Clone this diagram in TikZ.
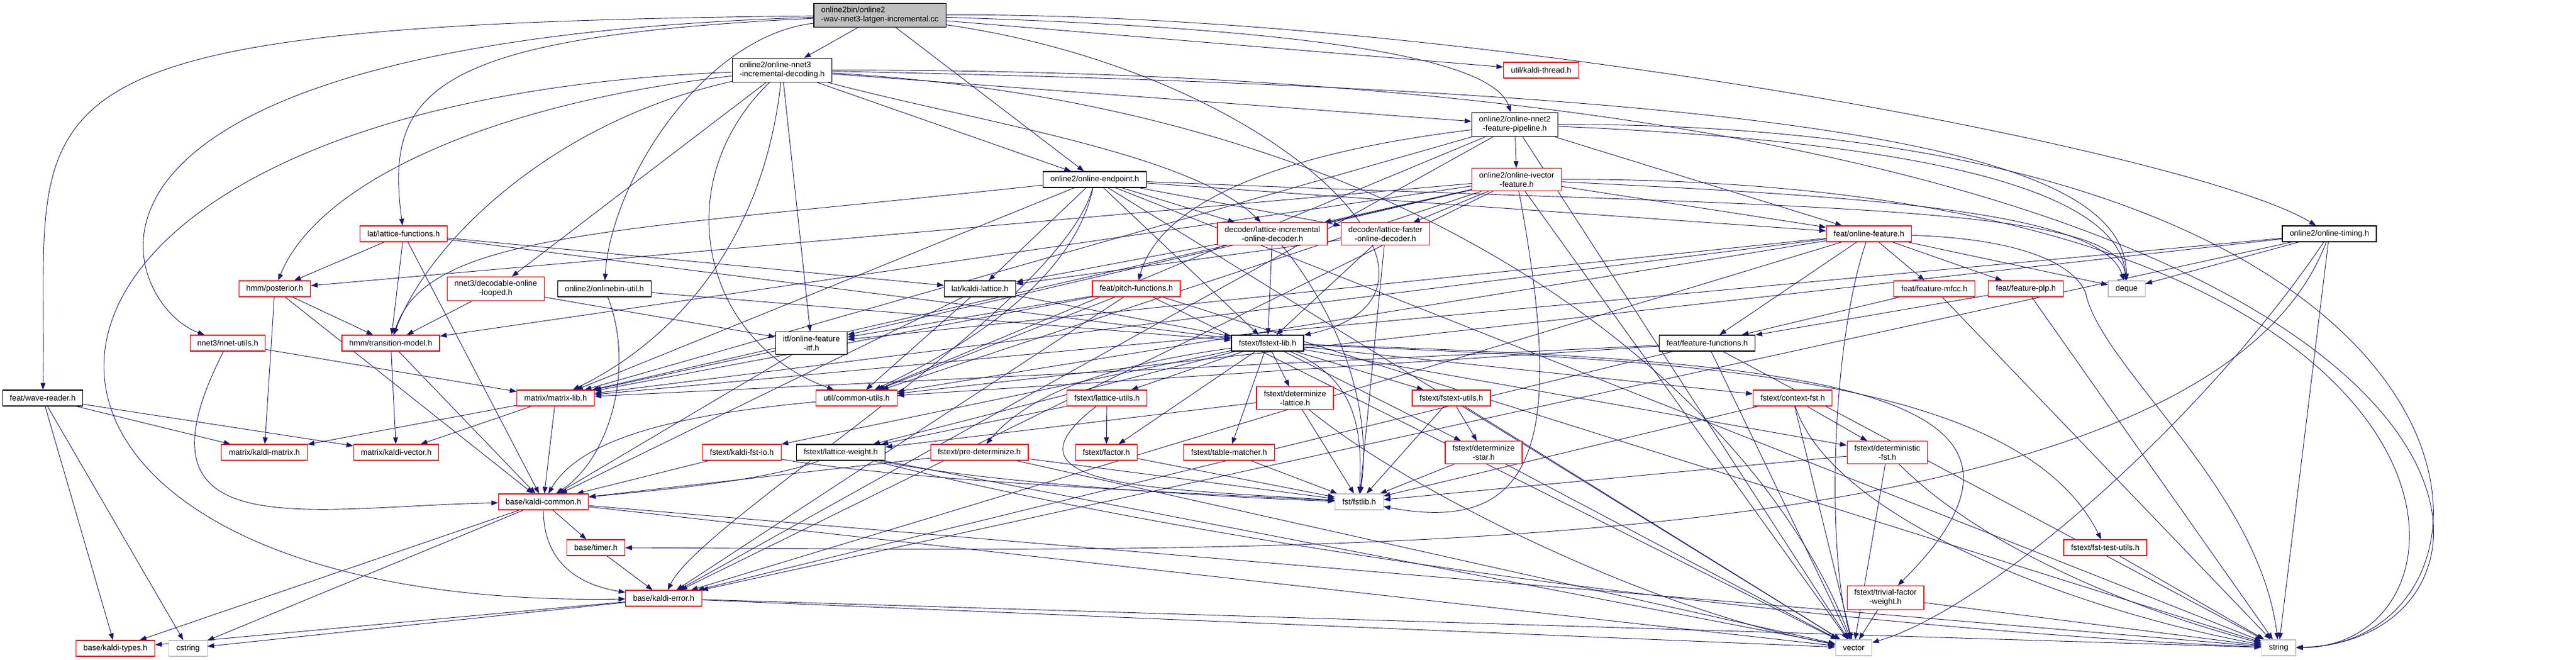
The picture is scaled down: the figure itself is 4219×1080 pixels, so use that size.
\documentclass[tikz,border=0pt]{standalone}
\usepackage{fontspec}
\setmainfont{Liberation Sans}
\usepackage{tikz}
\usetikzlibrary{arrows.meta}
\usetikzlibrary{backgrounds}
\definecolor{edgeblue}{rgb}{0.1,0.1,0.44}
\definecolor{sysgray}{rgb}{0.75,0.75,0.75}

\begin{document}
\begin{tikzpicture}[x=1pt, y=-1pt,
	hdr/.style={draw=black, line width=1.2pt, fill=white, inner xsep=12pt, inner ysep=6pt, minimum height=26pt, align=center, font=\fontsize{13}{15}\selectfont},
	trunc/.style={hdr, draw=red},
	sys/.style={hdr, draw=sysgray},
	root/.style={hdr, fill=sysgray, align=left},
	dep/.style={draw=edgeblue, line width=0.9pt, -{Triangle[length=11pt, width=8pt]}}]
	\useasboundingbox (0,0) rectangle (4219,1080);

	\node[root] (M) at (1441,25) {online2bin/online2\\-wav-nnet3-latgen-incremental.cc};	% source file
	\node[hdr, align=left] (D) at (1281,115) {online2/online-nnet3\\-incremental-decoding.h};
	\node[trunc] (KT) at (2524,115) {util/kaldi-thread.h};
	\node[hdr] (P) at (2481,204) {online2/online-nnet2\\-feature-pipeline.h};
	\node[hdr] (EP) at (1793,294) {online2/online-endpoint.h};
	\node[trunc] (IV) at (2484,294) {online2/online-ivector\\-feature.h};

	\node[trunc] (LF) at (661,383) {lat/lattice-functions.h};	% decoders, features
	\node[trunc] (LI) at (2084,383) {decoder/lattice-incremental\\-online-decoder.h};
	\node[trunc] (LD) at (2269,383) {decoder/lattice-faster\\-online-decoder.h};
	\node[trunc] (OF) at (3061,383) {feat/online-feature.h};
	\node[hdr] (OT) at (3815,383) {online2/online-timing.h};

	\node[trunc] (PO) at (450,473) {hmm/posterior.h};
	\node[trunc] (DL) at (812,473) {nnet3/decodable-online\\-looped.h};
	\node[hdr] (OU) at (990,473) {online2/onlinebin-util.h};
	\node[hdr] (KL) at (1605,473) {lat/kaldi-lattice.h};
	\node[trunc] (PF) at (1861,473) {feat/pitch-functions.h};
	\node[trunc] (MF) at (3168,473) {feat/feature-mfcc.h};
	\node[trunc] (PL) at (3318,473) {feat/feature-plp.h};
	\node[sys] (DQ) at (3483,473) {deque};

	\node[trunc] (NU) at (373,562) {nnet3/nnet-utils.h};
	\node[trunc] (TM) at (640,562) {hmm/transition-model.h};
	\node[hdr] (IT) at (1329,562) {itf/online-feature\\-itf.h};
	\node[hdr] (FL) at (2076,562) {fstext/fstext-lib.h};
	\node[hdr] (FF) at (2796,562) {feat/feature-functions.h};

	\node[hdr] (WR) at (70,652) {feat/wave-reader.h};	% matrix, util, fstext
	\node[trunc] (ML) at (910,652) {matrix/matrix-lib.h};
	\node[trunc] (CU) at (1403,652) {util/common-utils.h};
	\node[trunc] (LU) at (1813,652) {fstext/lattice-utils.h};
	\node[trunc] (DT) at (2121,652) {fstext/determinize\\-lattice.h};
	\node[trunc] (FU) at (2377,652) {fstext/fstext-utils.h};
	\node[trunc] (CF) at (2936,652) {fstext/context-fst.h};

	\node[trunc] (KM) at (433,741) {matrix/kaldi-matrix.h};
	\node[trunc] (KV) at (649,741) {matrix/kaldi-vector.h};
	\node[trunc] (FI) at (1215,741) {fstext/kaldi-fst-io.h};
	\node[hdr] (LW) at (1377,741) {fstext/lattice-weight.h};
	\node[trunc] (PD) at (1604,741) {fstext/pre-determinize.h};
	\node[trunc] (FA) at (1812,741) {fstext/factor.h};
	\node[trunc] (TB) at (2013,741) {fstext/table-matcher.h};
	\node[trunc] (DS) at (2430,741) {fstext/determinize\\-star.h};
	\node[trunc] (DF) at (3091,741) {fstext/deterministic\\-fst.h};

	\node[trunc] (KC) at (890,822) {base/kaldi-common.h};	% base
	\node[sys] (FS) at (2226,822) {fst/fstlib.h};
	\node[trunc] (TI) at (976,897) {base/timer.h};
	\node[trunc] (TU) at (3448,897) {fstext/fst-test-utils.h};
	\node[trunc] (KE) at (1087,980) {base/kaldi-error.h};
	\node[trunc] (TF) at (3088,979) {fstext/trivial-factor\\-weight.h};
	\node[trunc] (KY) at (189,1062) {base/kaldi-types.h};
	\node[sys] (CS) at (308,1062) {cstring};
	\node[sys] (VE) at (3036,1061) {vector};
	\node[sys] (ST) at (3732,1061) {string};

	\begin{scope}[on background layer]
	% source file
	\draw[dep] (M) .. controls (-50,40) and (80,150) .. (WR);
	\draw[dep] (M) -- (D);
	\draw[dep] (M) .. controls (2250,50) and (2450,110) .. (P);
	\draw[dep] (M) .. controls (1150,60) and (1000,300) .. (OU);
	\draw[dep] (M) .. controls (2400,20) and (3600,250) .. (OT);
	\draw[dep] (M) -- (EP);
	\draw[dep] (M) .. controls (2100,120) and (2450,480) .. (FL);
	\draw[dep] (M) .. controls (700,60) and (630,150) .. (LF);
	\draw[dep] (M) -- (KT);
	\draw[dep] (M) .. controls (0,70) and (200,500) .. (NU);

	% online-nnet3-incremental-decoding.h
	\draw[dep] (D) -- (DL);
	\draw[dep] (D) .. controls (1250,400) and (1100,560) .. (ML);
	\draw[dep] (D) .. controls (1090,300) and (1150,560) .. (CU);
	\draw[dep] (D) .. controls (-140,170) and (-140,1000) .. (KE);
	\draw[dep] (D) -- (IT);
	\draw[dep] (D) -- (EP);
	\draw[dep] (D) -- (P);
	\draw[dep] (D) .. controls (1600,200) and (1950,250) .. (LI);
	\draw[dep] (D) .. controls (900,200) and (700,400) .. (TM);
	\draw[dep] (D) .. controls (800,170) and (520,300) .. (PO);
	\draw[dep] (D) .. controls (4213,110) and (4213,1050) .. (ST);
	\draw[dep] (D) .. controls (2400,180) and (2900,700) .. (VE);
	\draw[dep] (D) .. controls (3000,150) and (3480,250) .. (DQ);

	% online-nnet2-feature-pipeline.h
	\draw[dep] (P) -- (IV);
	\draw[dep] (P) -- (OF);
	\draw[dep] (P) .. controls (2100,250) and (1900,330) .. (PF);
	\draw[dep] (P) -- (ML);
	\draw[dep] (P) -- (CU);
	\draw[dep] (P) -- (KE);
	\draw[dep] (P) .. controls (4160,200) and (4160,1055) .. (ST);
	\draw[dep] (P) -- (VE);
	\draw[dep] (P) .. controls (3100,230) and (3470,300) .. (DQ);

	% online-ivector-feature.h
	\draw[dep] (IV) -- (LI);
	\draw[dep] (IV) -- (LD);
	\draw[dep] (IV) -- (OF);
	\draw[dep] (IV) -- (IT);
	\draw[dep] (IV) -- (ML);
	\draw[dep] (IV) -- (CU);
	\draw[dep] (IV) -- (KE);
	\draw[dep] (IV) -- (PO);
	\draw[dep] (IV) -- (TM);
	\draw[dep] (IV) .. controls (4100,290) and (4100,1058) .. (ST);
	\draw[dep] (IV) -- (VE);
	\draw[dep] (IV) .. controls (3000,320) and (3440,340) .. (DQ);
	\draw[dep] (IV) .. controls (2560,700) and (2530,880) .. (FS);

	% online-endpoint.h
	\draw[dep] (EP) -- (KL);
	\draw[dep] (EP) -- (LI);
	\draw[dep] (EP) -- (LD);
	\draw[dep] (EP) -- (OF);
	\draw[dep] (EP) -- (FL);
	\draw[dep] (EP) .. controls (1000,380) and (700,380) .. (TM);
	\draw[dep] (EP) -- (ML);
	\draw[dep] (EP) .. controls (1760,450) and (1600,560) .. (CU);
	\draw[dep] (EP) .. controls (1740,500) and (1150,850) .. (KE);
	\draw[dep] (EP) -- (ST);
	\draw[dep] (EP) -- (VE);
	\draw[dep] (EP) .. controls (2900,340) and (3470,330) .. (DQ);

	% lattice-functions.h and decoders
	\draw[dep] (LF) -- (PO);
	\draw[dep] (LF) -- (TM);
	\draw[dep] (LF) -- (KC);
	\draw[dep] (LF) -- (KL);
	\draw[dep] (LF) -- (FL);
	\draw[dep] (LI) -- (KL);
	\draw[dep] (LI) -- (FL);
	\draw[dep] (LI) .. controls (2180,500) and (2250,650) .. (FS);
	\draw[dep] (LD) -- (KL);
	\draw[dep] (LD) -- (FL);
	\draw[dep] (LD) -- (FS);

	% online-feature.h
	\draw[dep] (OF) -- (FF);
	\draw[dep] (OF) -- (MF);
	\draw[dep] (OF) -- (PL);
	\draw[dep] (OF) -- (DQ);
	\draw[dep] (OF) .. controls (3330,392) and (3400,440) .. (3416,480) .. controls (3440,600) and (3700,800) .. (ST);
	\draw[dep] (OF) .. controls (3000,560) and (2990,900) .. (VE);
	\draw[dep] (OF) -- (ML);
	\draw[dep] (OF) -- (CU);
	\draw[dep] (OF) -- (KE);
	\draw[dep] (OF) -- (IT);

	% online-timing.h
	\draw[dep] (OT) -- (DQ);
	\draw[dep] (OT) -- (ST);
	\draw[dep] (OT) .. controls (3600,700) and (3250,1000) .. (VE);
	\draw[dep] (OT) -- (ML);
	\draw[dep] (OT) -- (CU);
	\draw[dep] (OT) -- (KE);
	\draw[dep] (OT) .. controls (3600,950) and (2000,900) .. (TI);

	% posterior, looped, onlinebin, lattice, pitch, mfcc, plp
	\draw[dep] (PO) -- (TM);
	\draw[dep] (PO) -- (KM);
	\draw[dep] (PO) -- (KC);
	\draw[dep] (DL) -- (TM);
	\draw[dep] (DL) -- (IT);
	\draw[dep] (OU) .. controls (1040,600) and (1000,750) .. (KC);
	\draw[dep] (OU) -- (FL);
	\draw[dep] (KL) -- (FL);
	\draw[dep] (KL) -- (KC);
	\draw[dep] (KL) -- (CU);
	\draw[dep] (PF) -- (KE);
	\draw[dep] (PF) -- (IT);
	\draw[dep] (PF) -- (ML);
	\draw[dep] (PF) -- (CU);
	\draw[dep] (PF) -- (ST);
	\draw[dep] (PF) -- (VE);
	\draw[dep] (MF) -- (FF);
	\draw[dep] (MF) -- (ST);
	\draw[dep] (PL) -- (FF);
	\draw[dep] (PL) -- (ST);

	% nnet-utils, transition-model, itf
	\draw[dep] (NU) -- (ML);
	\draw[dep] (NU) .. controls (200,900) and (500,830) .. (KC);
	\draw[dep] (TM) -- (KV);
	\draw[dep] (TM) -- (KC);
	\draw[dep] (IT) -- (ML);
	\draw[dep] (IT) -- (KC);

	% fstext-lib.h
	\draw[dep] (FL) .. controls (2230,620) and (2230,720) .. (FS);
	\draw[dep] (FL) -- (CF);
	\draw[dep] (FL) -- (DT);
	\draw[dep] (FL) -- (DS);
	\draw[dep] (FL) -- (FA);
	\draw[dep] (FL) .. controls (2700,590) and (3300,600) .. (TU);
	\draw[dep] (FL) -- (FU);
	\draw[dep] (FL) -- (FI);
	\draw[dep] (FL) -- (LU);
	\draw[dep] (FL) -- (LW);
	\draw[dep] (FL) .. controls (1800,600) and (1680,650) .. (PD);
	\draw[dep] (FL) -- (TB);
	\draw[dep] (FL) .. controls (2900,590) and (3450,620) .. (TF);
	\draw[dep] (FL) -- (DF);

	% feature-functions.h
	\draw[dep] (FF) -- (ML);
	\draw[dep] (FF) -- (CU);
	\draw[dep] (FF) -- (KE);
	\draw[dep] (FF) -- (ST);
	\draw[dep] (FF) -- (VE);

	% wave-reader.h, matrix-lib.h, common-utils.h
	\draw[dep] (WR) -- (KY);
	\draw[dep] (WR) -- (CS);
	\draw[dep] (WR) -- (KM);
	\draw[dep] (WR) -- (KV);
	\draw[dep] (ML) -- (KM);
	\draw[dep] (ML) -- (KV);
	\draw[dep] (ML) -- (KC);
	\draw[dep] (CU) .. controls (1100,680) and (950,720) .. (KC);

	% fstext headers
	\draw[dep] (LU) -- (LW);
	\draw[dep] (LU) -- (FA);
	\draw[dep] (LU) .. controls (1620,800) and (1900,800) .. (FS);
	\draw[dep] (DT) -- (FS);
	\draw[dep] (DT) .. controls (2300,800) and (2700,1000) .. (VE);
	\draw[dep] (DT) -- (LW);
	\draw[dep] (FU) -- (FS);
	\draw[dep] (FU) -- (DS);
	\draw[dep] (FU) -- (VE);
	\draw[dep] (CF) -- (VE);
	\draw[dep] (CF) .. controls (3000,850) and (3400,1000) .. (ST);
	\draw[dep] (CF) -- (DF);
	\draw[dep] (CF) -- (FS);
	\draw[dep] (FI) -- (KC);
	\draw[dep] (FI) .. controls (1500,790) and (2000,810) .. (FS);
	\draw[dep] (LW) .. controls (1250,790) and (1050,805) .. (KC);
	\draw[dep] (LW) .. controls (1600,790) and (2000,815) .. (FS);
	\draw[dep] (LW) .. controls (2000,900) and (3000,1030) .. (ST);
	\draw[dep] (LW) -- (VE);
	\draw[dep] (PD) -- (KC);
	\draw[dep] (PD) -- (FS);
	\draw[dep] (PD) -- (VE);
	\draw[dep] (FA) -- (FS);
	\draw[dep] (TB) -- (FS);
	\draw[dep] (DS) -- (FS);
	\draw[dep] (DS) -- (VE);
	\draw[dep] (DF) -- (FS);
	\draw[dep] (DF) -- (VE);
	\draw[dep] (DF) .. controls (3250,900) and (3500,1000) .. (ST);
	\draw[dep] (TU) -- (ST);
	\draw[dep] (TF) -- (VE);
	\draw[dep] (TF) -- (ST);

	% base
	\draw[dep] (KC) -- (TI);
	\draw[dep] (KC) .. controls (890,930) and (960,960) .. (KE);
	\draw[dep] (KC) -- (KY);
	\draw[dep] (KC) -- (CS);
	\draw[dep] (KC) -- (VE);
	\draw[dep] (KC) -- (ST);
	\draw[dep] (TI) -- (KE);
	\draw[dep] (KE) -- (KY);
	\draw[dep] (KE) -- (CS);
	\draw[dep] (KE) -- (VE);
	\draw[dep] (KE) -- (ST);
	\end{scope}
\end{tikzpicture}
\end{document}
